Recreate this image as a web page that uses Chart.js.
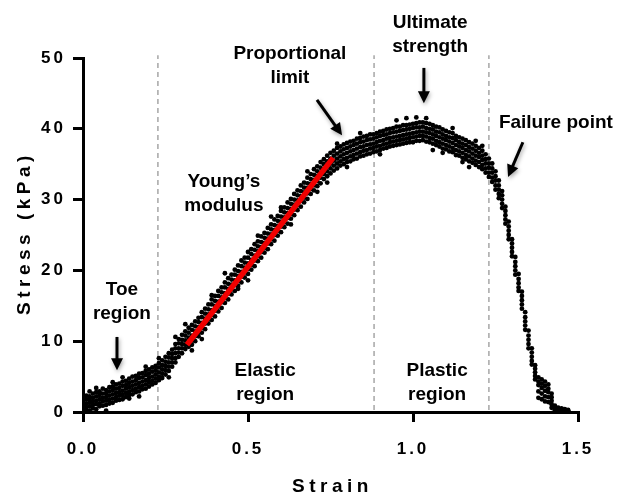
<!DOCTYPE html>
<html>
<head>
<meta charset="utf-8">
<script src="https://cdn.jsdelivr.net/npm/chart.js@4.4.1/dist/chart.umd.min.js"></script>
<style>
  html, body { margin: 0; padding: 0; background: #fff; }
</style>
</head>
<body>
<canvas id="stressChart" width="618" height="495"></canvas>
<script>
// strain samples and five rows across the point cloud, low to high (kPa)
const strain = [
  0.00, 0.01, 0.02, 0.03, 0.04, 0.05, 0.06, 0.07, 0.08, 0.09,
  0.10, 0.11, 0.12, 0.13, 0.14, 0.15, 0.16, 0.17, 0.18, 0.19,
  0.20, 0.21, 0.22, 0.23, 0.24, 0.25, 0.26, 0.27, 0.28, 0.29,
  0.30, 0.31, 0.32, 0.33, 0.34, 0.35, 0.36, 0.37, 0.38, 0.39,
  0.40, 0.41, 0.42, 0.43, 0.44, 0.45, 0.46, 0.47, 0.48, 0.49,
  0.50, 0.51, 0.52, 0.53, 0.54, 0.55, 0.56, 0.57, 0.58, 0.59,
  0.60, 0.61, 0.62, 0.63, 0.64, 0.65, 0.66, 0.67, 0.68, 0.69,
  0.70, 0.71, 0.72, 0.73, 0.74, 0.75, 0.76, 0.77, 0.78, 0.79,
  0.80, 0.81, 0.82, 0.83, 0.84, 0.85, 0.86, 0.87, 0.88, 0.89,
  0.90, 0.91, 0.92, 0.93, 0.94, 0.95, 0.96, 0.97, 0.98, 0.99,
  1.00, 1.01, 1.02, 1.03, 1.04, 1.05, 1.06, 1.07, 1.08, 1.09,
  1.10, 1.11, 1.12, 1.13, 1.14, 1.15, 1.16, 1.17, 1.18, 1.19,
  1.20, 1.21, 1.22, 1.23, 1.24, 1.25, 1.26, 1.27, 1.28, 1.29,
  1.30, 1.31, 1.32, 1.33, 1.34, 1.35, 1.36, 1.37, 1.38, 1.39,
  1.40, 1.41, 1.42, 1.43, 1.44, 1.45, 1.46, 1.47
];
const stressLo = [
  0.1, 0.3, 0.2, 0.5, 0.4, 0.8, 0.9, 1.0, 1.2, 1.3,
  1.6, 1.7, 1.8, 2.1, 2.4, 2.5, 2.8, 2.9, 3.2, 3.3,
  3.6, 3.9, 4.1, 4.5, 4.8, 5.3, 5.8, 6.4, 7.0, 7.8,
  8.3, 8.9, 9.2, 9.5, 10.0, 10.7, 11.2, 11.7, 12.5, 13.0,
  13.5, 14.2, 14.7, 15.4, 15.9, 16.6, 17.1, 17.8, 18.3, 19.0,
  19.5, 20.1, 20.6, 21.3, 21.8, 22.5, 23.0, 23.7, 24.2, 24.9,
  25.4, 26.1, 26.6, 27.3, 27.8, 28.5, 29.0, 29.6, 30.1, 30.8,
  31.3, 31.9, 32.3, 32.9, 33.3, 33.7, 34.1, 34.4, 34.8, 35.0,
  35.3, 35.4, 35.7, 35.8, 36.1, 36.2, 36.4, 36.5, 36.7, 36.8,
  37.0, 37.2, 37.3, 37.5, 37.6, 37.7, 37.8, 37.9, 38.0, 38.1,
  38.1, 38.3, 38.3, 38.4, 38.2, 38.1, 37.9, 37.7, 37.5, 37.2,
  37.1, 36.8, 36.7, 36.3, 36.2, 35.9, 35.7, 35.4, 35.2, 34.9,
  34.6, 34.3, 33.8, 33.2, 32.5, 31.4, 30.2, 28.8, 26.6, 24.4,
  22.0, 19.4, 17.1, 14.6, 11.6, 9.0, 6.7, 4.6, 2.0, 1.8,
  1.5, 1.4, 0.6, 0.1, 0.0, 0.1, 0.0, 0.0
];
const stressQ1 = [
  0.6, 0.7, 0.8, 1.0, 1.1, 1.2, 1.5, 1.6, 1.7, 1.9,
  2.1, 2.3, 2.4, 2.7, 2.9, 3.1, 3.3, 3.5, 3.7, 3.9,
  4.2, 4.4, 4.7, 5.0, 5.4, 5.9, 6.4, 7.0, 7.6, 8.4,
  9.0, 9.5, 9.9, 10.1, 10.7, 11.3, 11.9, 12.5, 13.1, 13.7,
  14.3, 14.9, 15.5, 16.1, 16.7, 17.3, 17.9, 18.5, 19.1, 19.7,
  20.2, 20.8, 21.4, 22.0, 22.6, 23.2, 23.8, 24.4, 25.0, 25.6,
  26.2, 26.8, 27.4, 28.0, 28.6, 29.2, 29.8, 30.3, 30.9, 31.5,
  32.0, 32.6, 33.1, 33.6, 34.0, 34.4, 34.8, 35.1, 35.4, 35.7,
  35.9, 36.1, 36.3, 36.5, 36.7, 36.9, 37.0, 37.2, 37.3, 37.5,
  37.6, 37.8, 37.9, 38.1, 38.2, 38.3, 38.4, 38.5, 38.6, 38.7,
  38.8, 38.9, 39.0, 39.0, 38.9, 38.7, 38.6, 38.3, 38.1, 37.9,
  37.7, 37.5, 37.3, 37.0, 36.8, 36.6, 36.3, 36.1, 35.8, 35.5,
  35.3, 34.9, 34.4, 33.8, 33.1, 32.0, 30.8, 29.4, 27.2, 25.0,
  22.6, 20.0, 17.6, 15.2, 12.2, 9.6, 7.2, 5.1, 2.9, 2.6,
  2.2, 2.1, 1.1, 0.3, 0.1, 0.2, 0.1, 0.05
];
const stressMid = [
  1.0, 1.2, 1.3, 1.5, 1.6, 1.8, 2.0, 2.1, 2.3, 2.5,
  2.7, 2.8, 3.0, 3.3, 3.5, 3.7, 3.9, 4.1, 4.3, 4.5,
  4.8, 5.0, 5.3, 5.6, 6.0, 6.5, 7.0, 7.6, 8.3, 9.0,
  9.6, 10.1, 10.5, 10.8, 11.4, 12.0, 12.6, 13.2, 13.8, 14.4,
  15.0, 15.6, 16.2, 16.8, 17.4, 18.0, 18.6, 19.2, 19.8, 20.4,
  21.0, 21.5, 22.1, 22.7, 23.3, 23.9, 24.5, 25.1, 25.7, 26.3,
  26.9, 27.5, 28.1, 28.7, 29.3, 29.9, 30.5, 31.0, 31.6, 32.2,
  32.8, 33.3, 33.8, 34.3, 34.7, 35.1, 35.5, 35.8, 36.1, 36.4,
  36.6, 36.8, 37.0, 37.2, 37.4, 37.5, 37.7, 37.8, 37.9, 38.1,
  38.3, 38.4, 38.6, 38.7, 38.8, 38.9, 39.0, 39.1, 39.2, 39.3,
  39.4, 39.5, 39.6, 39.6, 39.5, 39.4, 39.2, 39.0, 38.8, 38.6,
  38.4, 38.2, 38.0, 37.7, 37.5, 37.3, 37.0, 36.8, 36.5, 36.2,
  36.0, 35.6, 35.1, 34.5, 33.8, 32.7, 31.4, 30.0, 27.8, 25.6,
  23.2, 20.6, 18.2, 15.8, 12.8, 10.2, 7.8, 5.6, 3.8, 3.4,
  3.0, 2.8, 1.6, 0.5, 0.3, 0.3, 0.2, 0.1
];
const stressQ3 = [
  1.5, 1.8, 1.7, 2.0, 2.2, 2.4, 2.6, 2.6, 2.9, 3.1,
  3.3, 3.4, 3.7, 3.8, 4.1, 4.3, 4.5, 4.8, 4.9, 5.2,
  5.4, 5.7, 5.9, 6.3, 6.6, 7.1, 7.7, 8.2, 9.0, 9.7,
  10.2, 10.8, 11.2, 11.6, 12.1, 12.7, 13.4, 13.9, 14.5, 15.2,
  15.7, 16.4, 16.9, 17.6, 18.1, 18.7, 19.4, 19.9, 20.6, 21.1,
  21.8, 22.3, 22.9, 23.4, 24.0, 24.6, 25.2, 25.8, 26.4, 27.0,
  27.6, 28.2, 28.8, 29.4, 30.0, 30.6, 31.2, 31.7, 32.3, 32.9,
  33.5, 34.0, 34.5, 35.0, 35.4, 35.8, 36.2, 36.5, 36.8, 37.1,
  37.3, 37.5, 37.7, 37.9, 38.1, 38.2, 38.4, 38.5, 38.6, 38.8,
  39.0, 39.1, 39.2, 39.4, 39.5, 39.6, 39.7, 39.8, 39.9, 40.0,
  40.1, 40.2, 40.2, 40.3, 40.1, 40.0, 39.9, 39.6, 39.5, 39.2,
  39.0, 38.8, 38.7, 38.4, 38.1, 37.9, 37.7, 37.4, 37.2, 36.9,
  36.6, 36.2, 35.7, 35.1, 34.4, 33.3, 32.0, 30.6, 28.4, 26.2,
  23.8, 21.2, 18.8, 16.4, 13.4, 10.8, 8.4, 6.1, 4.3, 4.0,
  3.7, 3.3, 2.1, 0.7, 0.4, 0.4, 0.3, 0.2
];
const stressHi = [
  2.0, 2.3, 2.2, 2.6, 2.8, 2.9, 3.3, 3.1, 3.5, 3.6,
  3.9, 4.0, 4.3, 4.4, 4.7, 5.0, 5.1, 5.4, 5.5, 5.8,
  6.0, 6.3, 6.5, 6.9, 7.3, 7.8, 8.3, 8.8, 9.6, 10.3,
  10.9, 11.4, 11.9, 12.3, 12.8, 13.3, 14.1, 14.6, 15.2, 15.9,
  16.4, 17.1, 17.6, 18.3, 18.9, 19.4, 20.1, 20.7, 21.4, 21.8,
  22.6, 23.0, 23.7, 24.1, 24.8, 25.3, 26.0, 26.5, 27.2, 27.7,
  28.4, 28.9, 29.6, 30.1, 30.8, 31.3, 32.0, 32.4, 33.1, 33.6,
  34.3, 34.7, 35.3, 35.7, 36.2, 36.6, 36.9, 37.3, 37.5, 37.8,
  38.0, 38.2, 38.3, 38.6, 38.7, 38.9, 39.0, 39.2, 39.2, 39.4,
  39.6, 39.7, 39.9, 40.0, 40.1, 40.3, 40.3, 40.5, 40.5, 40.6,
  40.7, 40.8, 40.9, 40.9, 40.8, 40.7, 40.5, 40.3, 40.2, 39.9,
  39.7, 39.5, 39.4, 39.0, 38.8, 38.6, 38.4, 38.1, 37.9, 37.6,
  37.3, 36.9, 36.4, 35.8, 35.1, 34.0, 32.7, 31.2, 29.0, 26.9,
  24.4, 21.9, 19.5, 17.0, 14.1, 11.5, 9.0, 6.6, 4.9, 4.6,
  4.3, 3.9, 2.6, 0.9, 0.6, 0.5, 0.4, 0.3
];
// loose points outside the main band
const strayX = [0.04, 0.09, 0.14, 0.19, 0.26, 0.28, 0.31, 0.36, 0.43, 0.50, 0.57, 0.63,
                0.68, 0.74, 0.80, 0.95, 0.98, 1.01, 1.04, 1.06, 1.09, 1.12, 1.15, 1.19,
                0.02, 0.07, 0.12, 0.17, 0.23, 0.33, 0.39, 0.47, 0.53, 0.60, 0.71, 0.77,
                0.84, 0.90, 1.17, 1.21];
const strayY = [3.4, 4.2, 1.9, 6.4, 4.9, 10.6, 12.4, 10.3, 19.6, 18.6, 27.6, 26.5,
                34.0, 32.4, 34.6, 41.2, 41.5, 41.6, 41.5, 37.0, 36.6, 40.1, 35.3, 38.3,
                2.9, 0.2, 4.9, 2.2, 7.6, 8.7, 16.5, 17.4, 24.9, 28.9, 31.1, 37.9,
                39.4, 36.4, 34.6, 37.6];

// Young's modulus fit line
const youngX = [0.315, 0.758];
const youngY = [9.5, 35.9];

// region boundaries (strain)
const dividers = [0.227, 0.882, 1.23];

const xTicks = [0, 0.5, 1.0, 1.5];
const yTicks = [0, 10, 20, 30, 40, 50];

const FONT = "'Liberation Sans', Arial, sans-serif";

// text notes and arrows, placed in data units
const notes = [
  { text: ['Toe', 'region'], x: 0.118, y: 16.5 },
  { text: ['Young\u2019s', 'modulus'], x: 0.427, y: 31.8 },
  { text: ['Proportional', 'limit'], x: 0.627, y: 49.9 },
  { text: ['Ultimate', 'strength'], x: 1.052, y: 54.2 },
  { text: ['Failure point'], x: 1.433, y: 40.1 },
  { text: ['Elastic', 'region'], x: 0.552, y: 5.1 },
  { text: ['Plastic', 'region'], x: 1.073, y: 5.1 },
];
const arrows = [
  { from: [0.103, 10.6], to: [0.103, 5.9] },
  { from: [0.709, 44.1], to: [0.785, 39.1] },
  { from: [1.033, 48.6], to: [1.033, 43.6] },
  { from: [1.333, 38.1], to: [1.288, 33.2] },
];

const rows = [stressLo, stressQ1, stressMid, stressQ3, stressHi];
const cloud = [];
strain.forEach((s, i) => {
  rows.forEach(r => cloud.push({ x: s, y: r[i] }));
});
strayX.forEach((s, i) => cloud.push({ x: s, y: strayY[i] }));

function drawArrow(ctx, x1, y1, x2, y2) {
  const ang = Math.atan2(y2 - y1, x2 - x1);
  const head = 12;
  ctx.beginPath();
  ctx.moveTo(x1, y1);
  ctx.lineTo(x2 - head * 0.8 * Math.cos(ang), y2 - head * 0.8 * Math.sin(ang));
  ctx.stroke();
  ctx.beginPath();
  ctx.moveTo(x2, y2);
  ctx.lineTo(x2 - head * Math.cos(ang) + 6 * Math.sin(ang), y2 - head * Math.sin(ang) - 6 * Math.cos(ang));
  ctx.lineTo(x2 - head * Math.cos(ang) - 6 * Math.sin(ang), y2 - head * Math.sin(ang) + 6 * Math.cos(ang));
  ctx.closePath();
  ctx.fill();
}

const annotate = {
  id: 'annotate',
  beforeDraw(chart) {
    chart.ctx.letterSpacing = '3px';
  },
  afterDraw(chart) {
    const ctx = chart.ctx;
    const xs = chart.scales.x, ys = chart.scales.y;
    const area = chart.chartArea;
    ctx.save();
    ctx.fillStyle = '#000';

    // axis titles, widely spaced like the original
    ctx.letterSpacing = '4.5px';
    ctx.font = `bold 19px ${FONT}`;
    ctx.textAlign = 'center';
    ctx.textBaseline = 'middle';
    ctx.fillText('Strain', (area.left + area.right) / 2 + 2, chart.height - 8);
    ctx.save();
    ctx.translate(25, (area.top + area.bottom) / 2);
    ctx.rotate(-Math.PI / 2);
    ctx.fillText('Stress (kPa)', 2, 0);
    ctx.restore();

    ctx.letterSpacing = '0px';
    ctx.textBaseline = 'alphabetic';
    notes.forEach(n => {
      const px = xs.getPixelForValue(n.x);
      const py = ys.getPixelForValue(n.y);
      n.text.forEach((line, k) => ctx.fillText(line, px, py + k * 24));
    });
    ctx.strokeStyle = '#000';
    ctx.lineWidth = 3;
    ctx.shadowColor = 'rgba(0,0,0,0.35)';
    ctx.shadowBlur = 4;
    ctx.shadowOffsetX = 1;
    ctx.shadowOffsetY = 2;
    arrows.forEach(a => {
      drawArrow(ctx,
        xs.getPixelForValue(a.from[0]), ys.getPixelForValue(a.from[1]),
        xs.getPixelForValue(a.to[0]), ys.getPixelForValue(a.to[1]));
    });
    ctx.restore();
  }
};

const axisGrid = { display: true, drawOnChartArea: false, drawTicks: true, tickLength: 10, color: '#000', lineWidth: 3 };
const axisBorder = { display: true, color: '#000', width: 3 };
const tickFont = { family: FONT, size: 17, weight: 'bold' };

new Chart(document.getElementById('stressChart').getContext('2d'), {
  data: {
    datasets: [
      {
        type: 'line',
        data: youngX.map((x, i) => ({ x, y: youngY[i] })),
        borderColor: '#f00000',
        borderWidth: 5.5,
        pointRadius: 0,
        order: 0,
      },
      {
        type: 'scatter',
        data: cloud,
        backgroundColor: '#000',
        borderWidth: 0,
        pointRadius: 2.4,
        order: 1,
      },
      ...dividers.map(d => ({
        type: 'line',
        data: [{ x: d, y: 0.3 }, { x: d, y: 50.4 }],
        borderColor: '#a6a6a6',
        borderWidth: 1.5,
        borderDash: [5, 4],
        pointRadius: 0,
        clip: false,
        order: 2,
      })),
    ],
  },
  options: {
    responsive: false,
    animation: false,
    layout: { padding: { top: 58, right: 40, left: 0, bottom: 0 } },
    plugins: { legend: { display: false }, tooltip: { enabled: false } },
    scales: {
      x: {
        type: 'linear',
        min: 0,
        max: 1.5,
        afterBuildTicks: (s) => { s.ticks = xTicks.map(v => ({ value: v })); },
        afterFit: (s) => { s.height = 83; },
        ticks: { color: '#000', font: tickFont, padding: 17, maxRotation: 0, callback: (v) => v.toFixed(1) },
        grid: axisGrid,
        border: axisBorder,
      },
      y: {
        type: 'linear',
        min: 0,
        max: 50,
        afterBuildTicks: (s) => { s.ticks = yTicks.map(v => ({ value: v })); },
        afterFit: (s) => { s.width = 83; },
        ticks: { color: '#000', font: tickFont, padding: 7 },
        grid: axisGrid,
        border: axisBorder,
      },
    },
  },
  plugins: [annotate],
});
</script>
</body>
</html>
